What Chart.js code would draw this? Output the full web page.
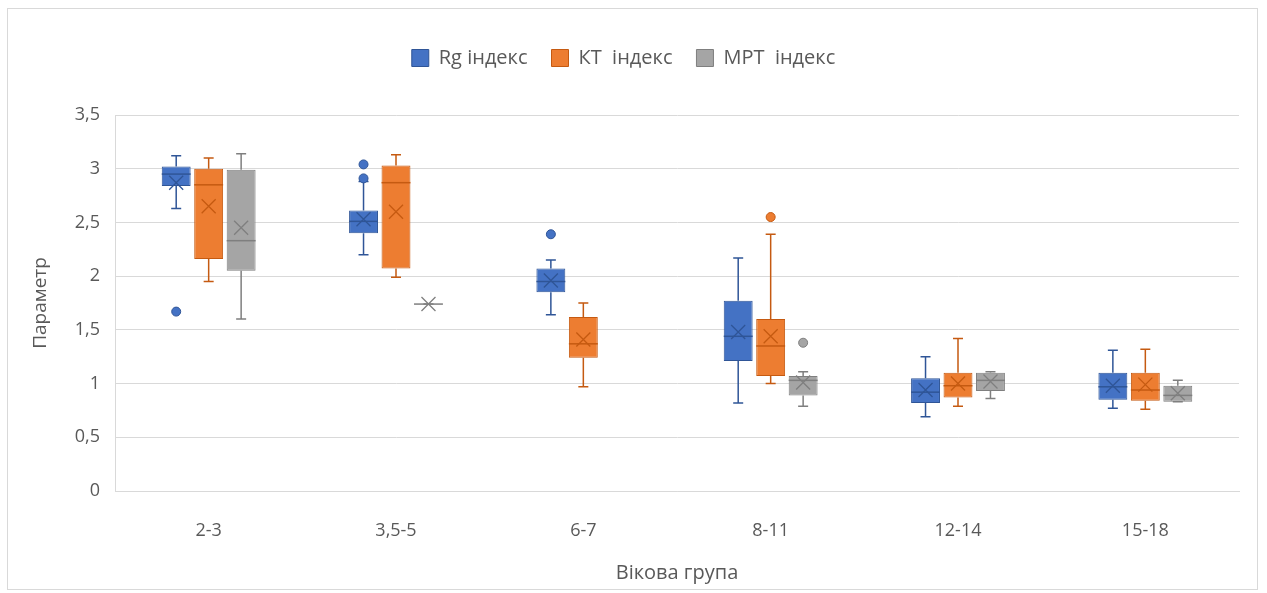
<!DOCTYPE html>
<html>
<head>
<meta charset="utf-8">
<script src="https://cdn.jsdelivr.net/npm/chart.js@4.4.1/dist/chart.umd.min.js"></script>
<style>
    body { margin: 0; background: #fff; }
    #wrap {
        position: absolute;
        left: 7px;
        top: 8px;
        width: 1249px;
        height: 580px;
        border: 1px solid #d9d9d9;
    }
</style>
</head>
<body>
<div id="wrap"><canvas id="boxChart"></canvas></div>
<script>
// Age groups
const categories = ['2-3', '3,5-5', '6-7', '8-11', '12-14', '15-18'];
const seriesNames = ['Rg індекс', 'КТ  індекс', 'МРТ  індекс'];
const yTicks = [0, 0.5, 1, 1.5, 2, 2.5, 3, 3.5];

// Rg
const rgMin = [2.63, 2.20, 1.64, 0.82, 0.69, 0.77];
const rgQ1 = [2.84, 2.40, 1.85, 1.21, 0.82, 0.85];
const rgMedian = [2.95, 2.51, 1.95, 1.44, 0.92, 0.97];
const rgQ3 = [3.02, 2.61, 2.07, 1.77, 1.05, 1.10];
const rgMax = [3.12, 2.88, 2.15, 2.17, 1.25, 1.31];
const rgMean = [2.87, 2.53, 1.96, 1.48, 0.94, 0.98];
const rgOutliers = [[1.67], [3.04, 2.91], [2.39], [], [], []];

// KT
const ktMin = [1.95, 1.99, 0.97, 1.00, 0.79, 0.76];
const ktQ1 = [2.16, 2.07, 1.24, 1.07, 0.87, 0.84];
const ktMedian = [2.85, 2.87, 1.37, 1.35, 0.98, 0.94];
const ktQ3 = [3.00, 3.03, 1.62, 1.60, 1.10, 1.10];
const ktMax = [3.10, 3.13, 1.75, 2.39, 1.42, 1.32];
const ktMean = [2.65, 2.60, 1.41, 1.44, 1.00, 0.99];
const ktOutliers = [[], [], [], [2.55], [], []];

// MPT
const mrtMin = [1.60, 1.74, null, 0.79, 0.86, 0.83];
const mrtQ1 = [2.05, 1.74, null, 0.89, 0.93, 0.83];
const mrtMedian = [2.33, 1.74, null, 1.03, 1.03, 0.89];
const mrtQ3 = [2.99, 1.74, null, 1.07, 1.10, 0.98];
const mrtMax = [3.14, 1.74, null, 1.11, 1.11, 1.03];
const mrtMean = [2.45, 1.74, null, 1.01, 1.02, 0.91];
const mrtOutliers = [[], [], [], [1.38], [], []];

const fills = ['#4472C4', '#ED7D31', '#A5A5A5'];
const darks = ['#2F5597', '#C55A11', '#7F7F7F'];
const textColor = '#595959';
const fontFamily = "'Open Sans', sans-serif";

const stats = [
    { min: rgMin, q1: rgQ1, median: rgMedian, q3: rgQ3, max: rgMax, mean: rgMean, outliers: rgOutliers },
    { min: ktMin, q1: ktQ1, median: ktMedian, q3: ktQ3, max: ktMax, mean: ktMean, outliers: ktOutliers },
    { min: mrtMin, q1: mrtQ1, median: mrtMedian, q3: mrtQ3, max: mrtMax, mean: mrtMean, outliers: mrtOutliers }
];

function boxData(s) {
    return s.q1.map((q, i) => q === null ? null : [q, s.q3[i]]);
}

// Whiskers, medians, means and outliers on top of the floating bars
const boxPlotExtras = {
    id: 'boxPlotExtras',
    afterDatasetsDraw(chart) {
        const ctx = chart.ctx;
        const y = chart.scales.y;
        stats.forEach((s, di) => {
            const meta = chart.getDatasetMeta(di);
            meta.data.forEach((bar, i) => {
                if (s.q1[i] === null) return;
                const x = bar.x;
                const half = bar.width / 2;
                const yq1 = y.getPixelForValue(s.q1[i]);
                const yq3 = y.getPixelForValue(s.q3[i]);
                const ymin = y.getPixelForValue(s.min[i]);
                const ymax = y.getPixelForValue(s.max[i]);
                const ymed = y.getPixelForValue(s.median[i]);
                const ymean = y.getPixelForValue(s.mean[i]);
                ctx.save();
                // whiskers
                ctx.strokeStyle = darks[di];
                ctx.lineWidth = 1.5;
                ctx.beginPath();
                ctx.moveTo(x, yq3); ctx.lineTo(x, ymax);
                ctx.moveTo(x, yq1); ctx.lineTo(x, ymin);
                ctx.moveTo(x - 5, ymax); ctx.lineTo(x + 5, ymax);
                ctx.moveTo(x - 5, ymin); ctx.lineTo(x + 5, ymin);
                ctx.stroke();
                // median
                ctx.beginPath();
                ctx.moveTo(x - half, ymed); ctx.lineTo(x + half, ymed);
                ctx.stroke();
                // mean
                const m = 7;
                ctx.lineWidth = 1.3;
                ctx.beginPath();
                ctx.moveTo(x - m, ymean - m); ctx.lineTo(x + m, ymean + m);
                ctx.moveTo(x - m, ymean + m); ctx.lineTo(x + m, ymean - m);
                ctx.stroke();
                // outliers
                ctx.fillStyle = fills[di];
                ctx.strokeStyle = darks[di];
                ctx.lineWidth = 1;
                s.outliers[i].forEach(v => {
                    ctx.beginPath();
                    ctx.arc(x, y.getPixelForValue(v), 4.5, 0, Math.PI * 2);
                    ctx.fill();
                    ctx.stroke();
                });
                ctx.restore();
            });
        });
    }
};

// Reserve room under the legend so the plot starts lower
const legendSpace = {
    id: 'legendSpace',
    beforeInit(chart) {
        const fit = chart.legend.fit;
        chart.legend.fit = function() {
            fit.bind(chart.legend)();
            this.height = 91;
        };
    }
};

new Chart(document.getElementById('boxChart'), {
    type: 'bar',
    data: {
        labels: categories,
        datasets: seriesNames.map((name, di) => ({
            label: name,
            data: boxData(stats[di]),
            backgroundColor: fills[di],
            borderColor: darks[di],
            borderWidth: 1,
            borderSkipped: false,
            categoryPercentage: 0.52,
            barPercentage: 0.89
        }))
    },
    options: {
        responsive: true,
        maintainAspectRatio: false,
        animation: false,
        layout: {
            padding: { top: 15, right: 18, bottom: 0, left: 0 }
        },
        plugins: {
            legend: {
                position: 'top',
                labels: {
                    color: textColor,
                    boxWidth: 17,
                    boxHeight: 17,
                    padding: 24,
                    font: { family: fontFamily, size: 20 }
                }
            },
            tooltip: { enabled: false }
        },
        scales: {
            x: {
                grid: { display: false },
                border: { color: '#d9d9d9' },
                ticks: {
                    color: textColor,
                    padding: 21,
                    font: { family: fontFamily, size: 18 }
                },
                title: {
                    display: true,
                    text: 'Вікова група',
                    color: textColor,
                    padding: { top: 0, bottom: 4 },
                    font: { family: fontFamily, size: 20 }
                },
                afterFit(scale) { scale.height = 98; }
            },
            y: {
                min: 0,
                max: 3.5,
                afterBuildTicks(scale) {
                    scale.ticks = yTicks.map(v => ({ value: v }));
                },
                grid: { color: '#d9d9d9', drawTicks: false },
                border: { color: '#d9d9d9' },
                ticks: {
                    color: textColor,
                    padding: 15,
                    font: { family: fontFamily, size: 18 },
                    callback: v => String(v).replace('.', ',')
                },
                title: {
                    display: true,
                    text: 'Параметр',
                    color: textColor,
                    padding: { top: 21, bottom: 0 },
                    font: { family: fontFamily, size: 19 }
                },
                afterFit(scale) { scale.width = 107; }
            }
        }
    },
    plugins: [boxPlotExtras, legendSpace]
});
</script>
</body>
</html>
